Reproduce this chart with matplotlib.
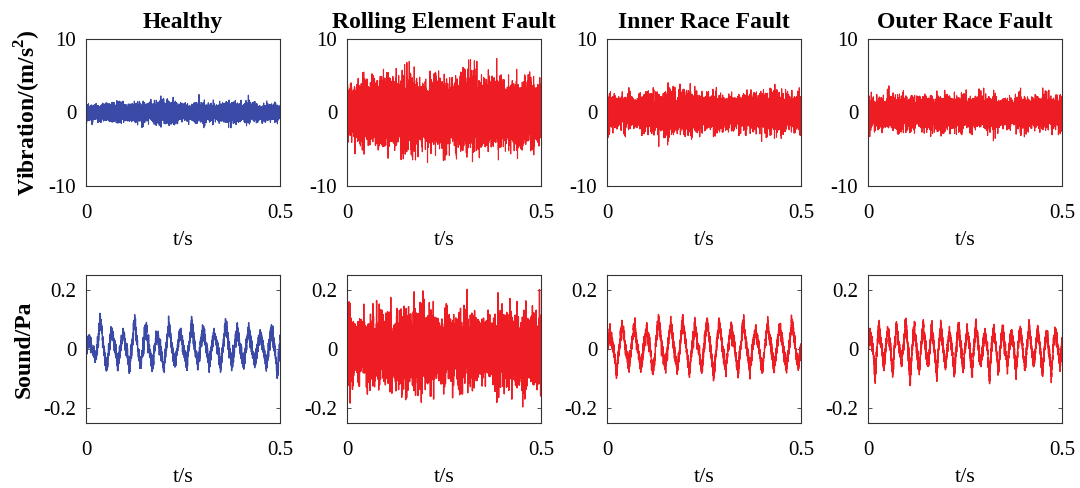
import numpy as np
import matplotlib
matplotlib.use("Agg")
from matplotlib import pyplot as plt

# titles and labels
titles = ["Healthy", "Rolling Element Fault", "Inner Race Fault", "Outer Race Fault"]
colors = ["#3a4aa6", "#ee1d23", "#ee1d23", "#ee1d23"]

# vibration envelope (max |a| per segment, m/s^2)
vib_env = {
    "Healthy": [1.8, 1.6, 1.7, 1.9, 1.6, 2.0, 1.7, 2.2, 2.6, 1.8, 1.7, 2.0, 1.9, 1.6, 2.2, 1.8, 2.1, 1.7, 1.9, 1.6],
    "Rolling Element Fault": [4.5, 6.0, 6.5, 6.0, 7.0, 6.5, 8.5, 6.0, 6.5, 7.5, 6.5, 7.0, 8.0, 6.5, 7.0, 7.5, 6.0, 6.5, 6.5, 7.0],
    "Inner Race Fault": [3.5, 3.0, 3.5, 3.2, 4.0, 3.5, 5.0, 3.5, 4.5, 3.2, 3.5, 4.0, 3.2, 3.5, 3.8, 3.2, 4.2, 3.5, 3.3, 3.8],
    "Outer Race Fault": [3.5, 3.0, 3.2, 3.8, 3.0, 3.4, 3.2, 3.6, 3.0, 3.8, 3.2, 3.0, 3.5, 3.3, 3.0, 3.6, 3.2, 3.4, 3.0, 3.5],
}

# sound: peak / trough of each cycle (Pa)
snd_peak = {
    "Healthy": [0.03, 0.11, 0.07, 0.06, 0.10, 0.07, 0.05, 0.08, 0.06, 0.09, 0.07, 0.05, 0.09, 0.07, 0.07, 0.05, 0.06],
    "Inner Race Fault": [0.05, 0.09, 0.08, 0.07, 0.10, 0.09, 0.10, 0.08, 0.10, 0.09, 0.08, 0.09, 0.07, 0.09, 0.08, 0.10],
    "Outer Race Fault": [0.06, 0.08, 0.07, 0.08, 0.09, 0.07, 0.08, 0.07, 0.08, 0.06, 0.08, 0.07, 0.08, 0.06, 0.07, 0.07, 0.06, 0.07, 0.08, 0.07, 0.06, 0.07],
}
snd_trough = {
    "Healthy": [-0.04, -0.07, -0.05, -0.06, -0.05, -0.06, -0.07, -0.05, -0.06, -0.05, -0.06, -0.06, -0.05, -0.06, -0.05, -0.06, -0.09],
    "Inner Race Fault": [-0.08, -0.06, -0.07, -0.08, -0.06, -0.07, -0.08, -0.07, -0.09, -0.07, -0.08, -0.07, -0.08, -0.07, -0.07, -0.06],
    "Outer Race Fault": [-0.09, -0.06, -0.08, -0.05, -0.11, -0.07, -0.06, -0.09, -0.06, -0.08, -0.07, -0.09, -0.06, -0.10, -0.07, -0.06, -0.08, -0.07, -0.06, -0.08, -0.09, -0.06],
}
# rolling element sound is broadband: envelope per segment
snd_env_rolling = [0.17, 0.13, 0.14, 0.15, 0.17, 0.15, 0.18, 0.19, 0.16, 0.15, 0.14, 0.15, 0.16, 0.14, 0.15, 0.16, 0.15, 0.17, 0.15, 0.16]

T = 0.5
rng = np.random.default_rng(7)

plt.rcParams['font.family'] = ['Liberation Serif', 'DejaVu Serif']
plt.rcParams['mathtext.fontset'] = 'custom'
plt.rcParams['mathtext.rm'] = 'Liberation Serif'
plt.rcParams['mathtext.bf'] = 'Liberation Serif:bold'
plt.rcParams['axes.unicode_minus'] = False


def vib_signal(env):
    n = 8000
    t = np.linspace(0, T, n)
    e = np.interp(t, np.linspace(0, T, len(env)), env)
    x = rng.standard_normal(n) * e / 3.3
    return t, x


def cycle_signal(peaks, troughs):
    n = 2500
    t = np.linspace(0, T, n)
    k = len(peaks)
    knots_t, knots_v = [], []
    for i in range(k):
        t0 = i * T / k
        d = T / k
        knots_t += [t0, t0 + 0.25 * d, t0 + 0.55 * d, t0 + 0.8 * d]
        knots_v += [0.0, peaks[i], 0.0, troughs[i]]
    knots_t.append(T)
    knots_v.append(0.02)
    x = np.interp(t, knots_t, knots_v)
    x = x + rng.standard_normal(n) * 0.012
    return t, x


def broad_signal(env):
    n = 5000
    t = np.linspace(0, T, n)
    e = np.interp(t, np.linspace(0, T, len(env)), env)
    x = rng.standard_normal(n) * e / 2.8
    return t, x


fig = plt.figure(figsize=(10.8, 4.88), dpi=100)
W, H = 1080, 488
lefts = [86, 347, 607, 868]
aw = 194

for j, name in enumerate(titles):
    # top row: vibration
    ax = fig.add_axes([lefts[j] / W, 1 - 186 / H, aw / W, 147 / H])
    t, x = vib_signal(vib_env[name])
    ax.plot(t, x, color=colors[j], lw=0.8)
    ax.set_xlim(0, 0.5)
    ax.set_ylim(-10, 10)
    ax.set_yticks([-10, 0, 10])
    ax.set_xticks([0, 0.5])
    ax.set_xticklabels(["0", "0.5"])
    ax.set_title(name, fontsize=17, fontweight="bold", pad=8)
    ax.set_xlabel("t/s", fontsize=16, labelpad=6)
    if j == 0:
        ax.set_ylabel(r"Vibration/(m/s$^{\mathbf{2}}$)", fontsize=17, fontweight="bold", labelpad=4)

    # bottom row: sound
    ax2 = fig.add_axes([lefts[j] / W, 1 - 423 / H, aw / W, 148 / H])
    if name == "Rolling Element Fault":
        t, x = broad_signal(snd_env_rolling)
    else:
        t, x = cycle_signal(snd_peak[name], snd_trough[name])
    ax2.plot(t, x, color=colors[j], lw=1.0)
    ax2.set_xlim(0, 0.5)
    ax2.set_ylim(-0.25, 0.25)
    ax2.set_yticks([-0.2, 0, 0.2])
    ax2.set_yticklabels(["-0.2", "0", "0.2"])
    ax2.set_xticks([0, 0.5])
    ax2.set_xticklabels(["0", "0.5"])
    ax2.set_xlabel("t/s", fontsize=16, labelpad=6)
    if j == 0:
        ax2.set_ylabel("Sound/Pa", fontsize=17, fontweight="bold", labelpad=6)

    for a in (ax, ax2):
        a.tick_params(direction="in", length=3, width=0.6, labelsize=15, pad=7,
                      top=True, right=True, colors="#333333", labelcolor="black")
        a.tick_params(axis="x", pad=13)
        for s in a.spines.values():
            s.set_color("#333333")
            s.set_linewidth(0.8)

fig.savefig("out.png", dpi=100, facecolor="white")
